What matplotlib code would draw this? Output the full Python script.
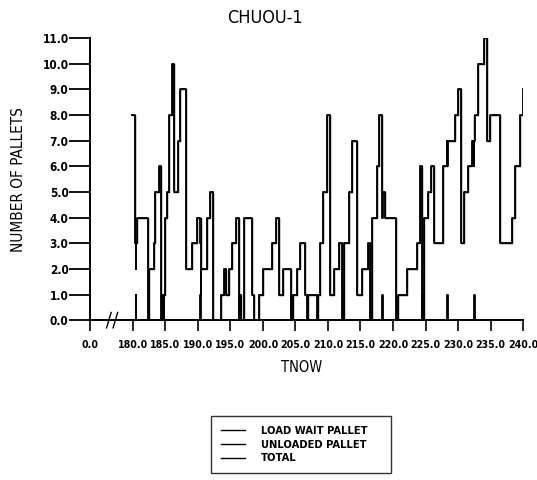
import numpy as np
import matplotlib
matplotlib.use("Agg")
import matplotlib.pyplot as plt
from matplotlib.lines import Line2D

plt.rcParams['font.family'] = ['DejaVu Sans']
plt.rcParams['font.stretch'] = 'condensed'

# total pallets: step change times and new values
total_t = [179.9, 180.3, 180.7, 182.3, 182.5, 183.2, 183.4, 184.0, 184.3, 184.45,
           184.9, 185.25, 185.55, 185.95, 186.35, 186.97, 187.23, 188.15, 189.03, 189.8,
           190.46, 191.34, 191.85, 192.35, 193.6, 194.0, 194.3, 194.82, 195.28, 195.8,
           196.3, 196.6, 197.1, 198.35, 198.6, 199.43, 200.05, 201.33, 202.0, 202.5,
           203.03, 204.26, 204.67, 205.18, 205.7, 206.46, 206.7, 206.97, 208.3, 208.4,
           208.77, 209.28, 209.8, 210.3, 210.9, 211.65, 212.2, 212.5, 213.2, 213.7,
           214.4, 215.18, 216.2, 216.45, 216.72, 217.49, 217.85, 218.26, 218.77, 220.41,
           220.72, 222.1, 223.65, 224.15, 224.41, 224.75, 225.43, 225.85, 226.36, 227.74,
           228.26, 229.54, 230.05, 230.46, 230.97, 231.59, 232.1, 232.46, 233.03, 234.05,
           234.41, 234.92, 236.46, 238.26, 238.77, 239.54, 239.95, 240.0]
total_v = [8, 3, 4, 0, 2, 3, 5, 6, 0, 1,
           4, 5, 8, 10, 5, 7, 9, 2, 3, 4,
           2, 4, 5, 0, 1, 2, 1, 2, 3, 4,
           1, 0, 4, 1, 0, 1, 2, 3, 4, 1,
           2, 0, 1, 2, 3, 1, 0, 1, 0, 1,
           3, 5, 8, 1, 2, 3, 0, 3, 5, 7,
           1, 2, 3, 0, 4, 6, 8, 5, 4, 0,
           1, 2, 3, 6, 0, 4, 5, 6, 3, 6,
           7, 8, 9, 3, 5, 6, 7, 8, 10, 11,
           7, 8, 3, 4, 6, 8, 9, 9]

# load wait pallet: short spikes of one pallet
wait_t = [179.9, 180.4, 180.55, 184.45, 184.8, 190.35, 190.5, 196.35, 196.5,
          204.25, 204.4, 212.25, 212.4, 218.25, 218.4, 224.45, 224.6,
          228.35, 228.5, 232.45, 232.6, 240.0]
wait_v = [0, 1, 0, 1, 0, 1, 0, 1, 0,
          1, 0, 1, 0, 1, 0, 1, 0,
          1, 0, 1, 0, 0]

y_ticks = [0, 1, 2, 3, 4, 5, 6, 7, 8, 9, 10, 11]
x_ticks = [180, 185, 190, 195, 200, 205, 210, 215, 220, 225, 230, 235, 240]
x_zero = 173.4  # where the "0.0" label sits before the axis break


def step_at(ts, vs, t):
    i = np.searchsorted(ts, t, side='right') - 1
    return vs[max(i, 0)]


# unloaded = total - waiting
all_t = sorted(set(total_t) | set(wait_t))
unl_v = [max(step_at(total_t, total_v, t) - step_at(wait_t, wait_v, t), 0) for t in all_t]

fig = plt.figure(figsize=(5.37, 4.8), dpi=100)
ax = fig.add_axes([0.1676, 0.333, 0.8064, 0.588])

ax.step(wait_t, wait_v, where='post', color='black', lw=1.3)
ax.step(all_t, unl_v, where='post', color='black', lw=1.3)
ax.step(total_t, total_v, where='post', color='black', lw=1.0)

ax.set_xlim(x_zero, 240)
ax.set_ylim(0, 11)
for s in ['top', 'right']:
    ax.spines[s].set_visible(False)
for s in ['left', 'bottom']:
    ax.spines[s].set_linewidth(1.4)

ax.set_yticks(y_ticks)
ax.set_yticklabels([f"{v:.1f}" for v in y_ticks], fontsize=8.5, fontweight='bold')
ax.set_xticks([x_zero] + x_ticks)
ax.set_xticklabels(["0.0"] + [f"{v:.1f}" for v in x_ticks], fontsize=7.6, fontweight='bold')
ax.tick_params(axis='y', direction='out', length=15, width=1.3, pad=0.5)
ax.tick_params(axis='x', direction='out', length=8, width=1.2, pad=6)

# axis break marks
for xb in [176.3, 177.3]:
    ax.plot([xb - 0.35, xb, xb + 0.35], [-0.3, 0.0, 0.3], color='black', lw=1.0,
            clip_on=False)

fig.text(0.494, 0.962, "CHUOU-1", ha='center', va='center', fontsize=13)
fig.text(0.034, 0.625, "NUMBER OF PALLETS", ha='center', va='center',
         rotation=90, fontsize=11)
fig.text(0.562, 0.235, "TNOW", ha='center', va='center', fontsize=10.5)

handles = [Line2D([], [], color='black', lw=1.0) for _ in range(3)]
leg = fig.legend(handles, ["LOAD WAIT PALLET", "UNLOADED PALLET", "TOTAL"],
                 loc='lower left', bbox_to_anchor=(0.382, 0.002, 0.356, 0.14),
                 mode='expand', handlelength=2.2, handletextpad=1.4,
                 borderpad=0.9, labelspacing=0.35, fancybox=False, frameon=True,
                 prop={'weight': 'bold', 'size': 8, 'stretch': 'condensed'})
leg.get_frame().set_edgecolor('black')
leg.get_frame().set_linewidth(1.0)

fig.savefig("out.png", dpi=100)
